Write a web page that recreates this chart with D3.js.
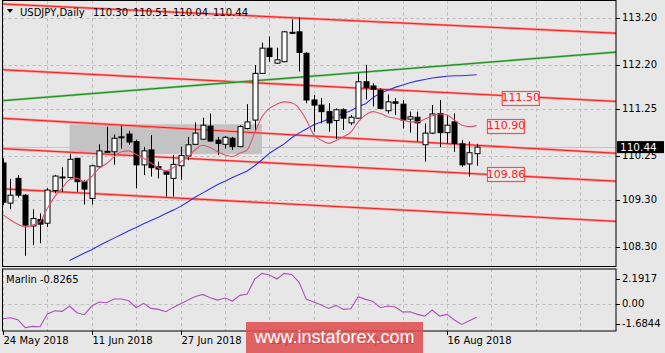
<!DOCTYPE html>
<html><head><meta charset="utf-8">
<script src="https://cdn.jsdelivr.net/npm/d3@7"></script>
<style>html,body{margin:0;padding:0;background:#e7e7e7;}svg{display:block;}</style>
</head><body>
<svg id="c" width="665" height="353"></svg>
<script>
// ---- data ----
const openP  = [110.10,109.24,109.77,109.41,108.75,108.89,108.81,109.51,109.79,109.79,110.20,109.70,109.34,110.02,110.34,110.34,110.66,110.72,110.56,110.06,110.38,110.02,109.91,109.77,110.04,110.25,110.50,110.61,110.89,110.59,110.50,110.63,110.45,110.84,111.02,112.02,112.56,112.24,112.27,112.90,112.91,112.45,111.45,111.34,111.20,111.01,111.24,110.96,111.06,111.84,111.75,111.66,111.22,111.41,111.36,111.04,111.08,110.49,110.74,111.16,110.75,110.98,110.51,110.08,110.30];
const highP  = [110.20,109.76,109.84,109.43,109.11,109.02,109.56,109.84,110.01,110.29,110.21,109.74,110.06,110.50,110.88,110.71,110.90,110.79,110.60,110.44,110.70,110.13,109.95,110.27,110.45,110.66,110.97,111.07,111.16,110.66,110.68,110.66,110.91,111.36,112.20,112.68,112.81,112.57,112.93,113.18,113.22,112.48,111.56,111.49,111.38,111.27,111.27,111.13,112.02,112.20,111.81,111.70,111.57,111.49,111.45,111.20,111.20,110.95,111.34,111.45,111.13,111.16,110.59,110.56,110.51];
const lowP   = [109.20,109.11,109.36,108.11,108.34,108.38,108.73,109.45,109.48,109.77,109.48,109.21,109.21,109.99,110.32,110.06,110.41,110.49,109.56,109.84,109.81,109.77,109.38,109.38,109.74,110.16,110.49,110.59,110.56,110.27,110.41,110.38,110.44,110.82,110.79,112.01,112.27,112.22,112.26,112.86,112.06,111.38,110.77,110.95,110.77,110.61,110.81,110.91,111.04,111.46,111.31,111.25,111.16,111.13,110.84,110.75,110.56,110.13,110.72,110.44,110.52,110.34,110.02,109.81,110.04];
const closeP = [109.26,109.41,109.41,108.77,108.91,108.79,109.52,109.82,109.80,110.18,109.70,109.54,110.04,110.36,110.35,110.63,110.64,110.55,110.06,110.36,110.00,109.97,109.86,110.07,110.26,110.49,110.74,110.91,110.57,110.52,110.65,110.45,110.88,110.98,112.02,112.56,112.38,112.31,112.91,112.89,112.47,111.45,111.34,111.20,110.96,111.24,111.06,111.08,111.84,111.72,111.68,111.27,111.41,111.38,111.02,111.09,110.96,110.74,111.15,110.75,110.91,110.52,110.06,110.32,110.44];
const fastMA = [108.99,108.88,108.79,108.73,108.77,108.84,109.13,109.38,109.56,109.74,109.77,109.70,109.81,109.99,110.09,110.23,110.34,110.36,110.28,110.20,110.10,110.00,109.93,110.00,110.12,110.23,110.39,110.48,110.43,110.34,110.27,110.24,110.31,110.38,110.74,111.09,111.27,111.36,111.41,111.39,111.27,111.02,110.70,110.59,110.52,110.58,110.66,110.76,110.98,111.13,111.20,111.16,111.09,111.06,111.02,110.98,110.98,111.04,111.11,111.15,111.13,111.02,110.91,110.88,110.90];
const slowMAStart = 9;
const slowMA = [108.01,108.09,108.17,108.24,108.33,108.41,108.49,108.57,108.65,108.72,108.80,108.87,108.94,109.02,109.09,109.17,109.27,109.37,109.46,109.55,109.64,109.71,109.79,109.86,109.93,110.04,110.17,110.31,110.41,110.51,110.64,110.74,110.83,110.92,110.98,111.04,111.10,111.16,111.22,111.31,111.37,111.50,111.60,111.66,111.72,111.77,111.82,111.86,111.89,111.92,111.94,111.96,111.97,111.97,111.98,111.99];
const marlin = [-0.917,-0.854,-0.979,-1.479,-1.396,-1.417,-0.625,-0.417,-0.458,-0.125,-0.542,-0.667,-0.125,0.125,0.083,0.313,0.313,0.208,-0.229,0.042,-0.271,-0.333,-0.479,-0.208,0.021,0.25,0.479,0.604,0.396,0.25,0.375,0.188,0.542,0.625,1.542,1.917,1.813,1.563,1.917,1.854,1.375,0.292,0.125,-0.063,-0.271,-0.083,-0.333,-0.292,0.458,0.292,0.167,-0.229,-0.125,-0.188,-0.5,-0.479,-0.646,-0.75,-0.375,-0.75,-0.646,-1.0,-1.271,-1.042,-0.8265];
// trend lines: [index A, price A, index B, price B]
const redLines = [[-0.4,113.51,81.6,112.89],[-0.4,112.10,81.6,111.43],[-0.4,111.06,81.6,110.32],[-0.4,110.41,81.6,109.72],[-0.4,109.55,81.6,108.86]];
const greenLine = [-0.4,111.43,81.6,112.46];
const zoneIdx = [9,35];
const zonePrice = [110.29,110.93];
const labelPrices = [111.50,110.90,109.86];
const labelIdx = [67.4,65.4,65.4];
const priceTicks = [113.20,112.20,111.25,110.25,109.30,108.30];
const marlinTicks = [2.1917,0.00,-1.6844];
const marlinTickText = ["2.1917","0.00","-1.6844"];
const dateIdx = [0,12,24,36,48,60];
const dateLabels = ["24 May 2018","11 Jun 2018","27 Jun 2018","13 Jul 2018","31 Jul 2018","16 Aug 2018"];
const gridStep = 6;
const symbol = "USDJPY,Daily";
const ohlcText = ["110.30","110.51","110.04","110.44"];
const lastPrice = 110.44;
const marlinLast = "-0.8265";

// ---- layout ----
const svg = d3.select("#c");
const L = 2.5, R = 616, T = 0.5, B = 266.5;
const MT = 269, MB = 331;
const FONT = "DejaVu Sans";

const x = d3.scaleLinear().domain([0,64]).range([3,476.6]);
const y = d3.scaleLinear().domain([108.30,113.20]).range([247,18.3]);
const ym = d3.scaleLinear().domain([-1.6844,2.1917]).range([MB,MT]);

svg.append("rect").attr("width",665).attr("height",353).attr("fill","#e7e7e7");

const defs = svg.append("defs");
defs.append("clipPath").attr("id","mainclip").append("rect").attr("x",L).attr("y",T).attr("width",R-L).attr("height",B-T);
defs.append("clipPath").attr("id","subclip").append("rect").attr("x",L).attr("y",MT).attr("width",R-L).attr("height",MB-MT);

const main = svg.append("g").attr("clip-path","url(#mainclip)");
const sub = svg.append("g").attr("clip-path","url(#subclip)");

// grids
const gridIdx = d3.range(0, 84, gridStep);
const gridCol = "#bdbdbd";
main.selectAll(".vg").data(gridIdx).join("line")
  .attr("x1",d=>Math.round(x(d))+0.5).attr("x2",d=>Math.round(x(d))+0.5).attr("y1",T).attr("y2",B)
  .attr("stroke",gridCol).attr("stroke-dasharray","3,3");
main.selectAll(".hg").data(priceTicks).join("line")
  .attr("x1",L).attr("x2",R).attr("y1",d=>Math.round(y(d))+0.5).attr("y2",d=>Math.round(y(d))+0.5)
  .attr("stroke",gridCol).attr("stroke-dasharray","3,3");
sub.selectAll(".vg").data(gridIdx).join("line")
  .attr("x1",d=>Math.round(x(d))+0.5).attr("x2",d=>Math.round(x(d))+0.5).attr("y1",MT).attr("y2",MB)
  .attr("stroke",gridCol).attr("stroke-dasharray","3,3");
sub.append("line").attr("x1",L).attr("x2",R).attr("y1",Math.round(ym(0))+0.5).attr("y2",Math.round(ym(0))+0.5)
  .attr("stroke",gridCol).attr("stroke-dasharray","3,3");

// zone rectangle
main.append("rect").attr("x",x(zoneIdx[0])).attr("y",y(zonePrice[1]))
  .attr("width",x(zoneIdx[1])-x(zoneIdx[0])).attr("height",y(zonePrice[0])-y(zonePrice[1]))
  .attr("fill","#c3c3c3");

// last price line
main.append("line").attr("x1",L).attr("x2",R).attr("y1",Math.round(y(lastPrice))+0.5).attr("y2",Math.round(y(lastPrice))+0.5)
  .attr("stroke","#c4c4c4");

// trend lines extended across plot
function trend(l, color, w){
  const s = (l[3]-l[1])/(l[2]-l[0]);
  const i0 = x.invert(L), i1 = x.invert(R);
  main.append("line")
    .attr("x1",x(i0)).attr("y1",y(l[1]+s*(i0-l[0])))
    .attr("x2",x(i1)).attr("y2",y(l[1]+s*(i1-l[0])))
    .attr("stroke",color).attr("stroke-width",w);
}
redLines.forEach(l=>{ trend(l,"#ff8a8a",2.4); trend(l,"#ff1a1a",1); });
trend(greenLine,"#7fbf7f",2.2); trend(greenLine,"#169016",1);

// moving averages
const slowData = slowMA.map((v,k)=>[k+slowMAStart, v]);
main.append("path").datum(slowData)
  .attr("d",d3.line().x(d=>x(d[0])).y(d=>y(d[1])))
  .attr("fill","none").attr("stroke","#3030f0").attr("stroke-width",1.1);

// candles
const idx = d3.range(openP.length);
const bw = 5;
const cg = main.append("g");
cg.selectAll(".wick").data(idx).join("line")
  .attr("x1",i=>Math.round(x(i))+0.5).attr("x2",i=>Math.round(x(i))+0.5)
  .attr("y1",i=>y(highP[i])).attr("y2",i=>y(lowP[i]))
  .attr("stroke","#000").attr("stroke-width",1);
cg.selectAll(".body").data(idx).join("rect")
  .attr("x",i=>Math.round(x(i))+0.5-bw/2)
  .attr("y",i=>y(Math.max(openP[i],closeP[i])))
  .attr("width",bw)
  .attr("height",i=>Math.max(1,Math.abs(y(openP[i])-y(closeP[i]))))
  .attr("fill",i=>closeP[i]>=openP[i]?"#ffffff":"#000000")
  .attr("stroke","#000").attr("stroke-width",1);

main.append("path").datum(fastMA)
  .attr("d",d3.line().x((d,i)=>x(i)).y(d=>y(d)).curve(d3.curveMonotoneX))
  .attr("fill","none").attr("stroke","#e2506c").attr("stroke-width",1.1);

// price label boxes
labelPrices.forEach((p,k)=>{
  const bx = x(labelIdx[k]), by = y(p);
  svg.append("rect").attr("x",bx+0.5).attr("y",Math.round(by-7)+0.5).attr("width",37).attr("height",14)
    .attr("fill","#ececec").attr("stroke","#ff4a4a").attr("stroke-width",1.2);
  svg.append("text").attr("x",bx+19).attr("y",by+0.5).attr("text-anchor","middle").attr("dominant-baseline","middle")
    .attr("font-family",FONT).attr("font-size",11).attr("fill","#ff2020").text(p.toFixed(2));
});

// marlin line
sub.append("path").datum(marlin)
  .attr("d",d3.line().x((d,i)=>x(i)).y(d=>ym(d)))
  .attr("fill","none").attr("stroke","#b04fc0").attr("stroke-width",1.1);

// frames
svg.append("rect").attr("x",L).attr("y",T).attr("width",R-L).attr("height",B-T).attr("fill","none").attr("stroke","#000");
svg.append("rect").attr("x",L).attr("y",MT).attr("width",R-L).attr("height",MB-MT).attr("fill","none").attr("stroke","#000");

// right price axis
const ax = svg.append("g").attr("font-family",FONT).attr("font-size",10).attr("fill","#000");
priceTicks.forEach(p=>{
  ax.append("line").attr("x1",R).attr("x2",R+4).attr("y1",Math.round(y(p))+0.5).attr("y2",Math.round(y(p))+0.5).attr("stroke","#000");
  ax.append("text").attr("x",R+6).attr("y",y(p)).attr("dominant-baseline","middle").text(p.toFixed(2));
});
// last price box
svg.append("rect").attr("x",R+1).attr("y",y(lastPrice)-6).attr("width",47).attr("height",12).attr("fill","#000");
svg.append("text").attr("x",R+4).attr("y",y(lastPrice)+0.5).attr("dominant-baseline","middle")
  .attr("font-family",FONT).attr("font-size",10.5).attr("fill","#fff").text(lastPrice.toFixed(2));

// marlin axis
marlinTicks.forEach((v,k)=>{
  const ty = k===0 ? ym(v)+10 : (k===2 ? ym(v)-7 : ym(v));
  ax.append("line").attr("x1",R).attr("x2",R+4).attr("y1",Math.round(ty)+0.5).attr("y2",Math.round(ty)+0.5).attr("stroke","#000");
  ax.append("text").attr("x",R+6).attr("y",ty).attr("dominant-baseline","middle").text(marlinTickText[k]);
});
svg.append("text").attr("x",6).attr("y",280).attr("dominant-baseline","middle")
  .attr("font-family",FONT).attr("font-size",10).attr("fill","#000").text("Marlin " + marlinLast);

// date axis
dateIdx.forEach((d,k)=>{
  const tx = Math.round(x(d))+0.5;
  ax.append("line").attr("x1",tx).attr("x2",tx).attr("y1",MB).attr("y2",MB+4).attr("stroke","#000");
  ax.append("text").attr("x",tx).attr("y",341).attr("dominant-baseline","middle").text(dateLabels[k]);
});

// title
svg.append("path").attr("d","M7,9 L13,9 L10,13 Z").attr("fill","#000");
svg.append("text").attr("x",20).attr("y",13).attr("dominant-baseline","middle")
  .attr("font-family",FONT).attr("font-size",10).attr("fill","#000").text(symbol);
ohlcText.forEach((t,k)=>{
  svg.append("text").attr("x",93+40*k).attr("y",13).attr("dominant-baseline","middle")
    .attr("font-family",FONT).attr("font-size",10).attr("fill","#000").text(t);
});

// watermark
svg.append("rect").attr("x",246).attr("y",322).attr("width",177).attr("height",31).attr("fill","#e05050").attr("opacity",0.88);
svg.append("text").attr("x",334.5).attr("y",338).attr("text-anchor","middle").attr("dominant-baseline","middle")
  .attr("font-family","Liberation Sans").attr("font-size",18).attr("fill","#ffffff").text("www.instaforex.com");
</script>
</body></html>
